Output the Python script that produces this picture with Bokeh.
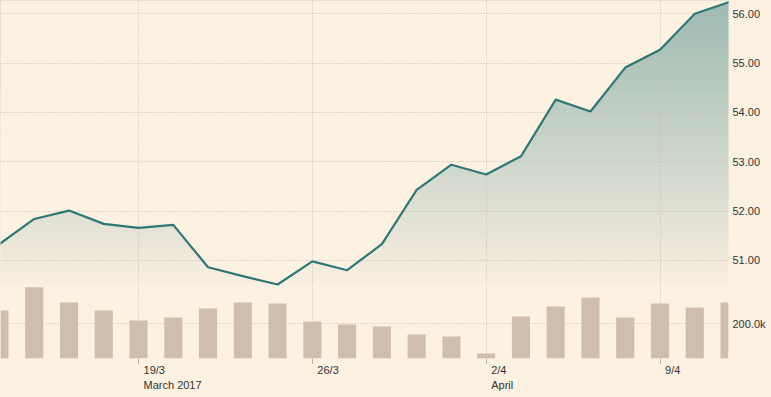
import numpy as np
from bokeh.plotting import figure
from bokeh.layouts import column
from bokeh.models import (Range1d, FixedTicker, ColumnDataSource,
                          NumeralTickFormatter, PrintfTickFormatter)
from bokeh.core.properties import value
from bokeh.embed import file_html
from bokeh.resources import INLINE

# ---- data ----
dates = ["13/3", "14/3", "15/3", "16/3", "19/3", "20/3", "21/3", "22/3", "23/3",
         "26/3", "27/3", "28/3", "29/3", "30/3", "2/4", "3/4", "4/4", "5/4", "6/4",
         "9/4", "10/4", "11/4"]
price = [51.33, 51.84, 52.01, 51.74, 51.66, 51.72, 50.86, 50.68, 50.51, 50.98, 50.80,
         51.33, 52.43, 52.94, 52.74, 53.11, 54.26, 54.02, 54.91, 55.27, 56.00, 56.24]
volume = [277000, 411000, 323000, 277000, 219000, 236000, 288000, 323000, 317000,
          213000, 196000, 184000, 138000, 127000, 29000, 242000, 300000, 352000,
          236000, 317000, 294000, 323000]
tick_dates = ["19/3", "26/3", "2/4", "9/4"]
month_labels = ["March 2017", "", "April", ""]
price_ticks = [51, 52, 53, 54, 55, 56]
vol_ticks = [200000]

idx = list(range(len(dates)))
tick_idx = [dates.index(d) for d in tick_dates]

# ---- style ----
BG = "#fdf1e2"
LINE = "#2e7877"
BAR = "#cfbead"
GRID = "#c7bbad"
TXT = "#333333"
FONT = "Liberation Sans"
TOP_RGB = np.array([157, 186, 178])
BG_RGB = np.array([253, 241, 226])

x_range = Range1d(0.03, 20.97)
FRAME_W = 728
RIGHT = 43


def common(**kw):
    return figure(frame_width=FRAME_W, x_range=x_range, output_backend="svg",
                  toolbar_location=None, min_border_left=0, min_border_right=RIGHT,
                  min_border_top=0, min_border_bottom=0, background_fill_color=BG,
                  border_fill_color=BG, outline_line_color=None, **kw)


def style_right_axis(a):
    a.axis_line_color = None
    a.major_tick_line_color = None
    a.minor_tick_line_color = None
    a.major_tick_out = 0
    a.major_tick_in = 0
    a.major_label_standoff = 4
    a.major_label_text_font = FONT
    a.major_label_text_font_size = "11px"
    a.major_label_text_color = TXT


def style_grid(fig):
    fig.ygrid.grid_line_color = GRID
    fig.ygrid.grid_line_dash = "1 2"
    fig.xgrid.ticker = FixedTicker(ticks=tick_idx)
    fig.xgrid.grid_line_color = GRID
    fig.xgrid.grid_line_dash = "1 2"


# ---- price panel ----
p1 = common(frame_height=286, y_range=Range1d(50.47, 56.27),
            x_axis_location=None, y_axis_location="right")

# gradient bands beneath the line
g_lo, g_hi = 50.4, 56.27
n = 90
edges = np.linspace(g_lo, g_hi, n + 1)
cols = []
for k in range(n):
    t = (edges[k] + edges[k + 1]) / 2
    f = ((t - g_lo) / (g_hi - g_lo)) ** 0.9
    c = BG_RGB + f * (TOP_RGB - BG_RGB)
    cols.append("#%02x%02x%02x" % tuple(int(round(v)) for v in c))
p1.quad(left=x_range.start - 1, right=x_range.end + 1, bottom=edges[:-1],
        top=edges[1:] + 0.01, fill_color=cols, line_color=None, level="image")
# cover above the line
p1.varea(x=idx, y1=price, y2=[60] * len(idx), fill_color=BG, level="image")

p1.line(idx, price, line_color=LINE, line_width=2.2)

ax = p1.yaxis[0]
ax.ticker = FixedTicker(ticks=price_ticks)
ax.formatter = PrintfTickFormatter(format="%.2f")
style_right_axis(ax)
style_grid(p1)

# ---- volume panel ----
p2 = common(frame_height=72, y_range=Range1d(0, 415000), y_axis_location="right")
p2.vbar(x=idx, top=volume, bottom=0, width=0.52, fill_color=BAR, line_color=None)

vax = p2.yaxis[0]
vax.ticker = FixedTicker(ticks=vol_ticks)
vax.formatter = NumeralTickFormatter(format="0.0a")
style_right_axis(vax)

xax = p2.xaxis[0]
xax.ticker = FixedTicker(ticks=tick_idx)
xax.major_label_overrides = {i: "" for i in tick_idx}
xax.major_label_text_font_size = "0px"
xax.major_label_standoff = 0
xax.axis_line_color = None
xax.major_tick_line_color = "#bdb2a6"
xax.major_tick_in = 0
xax.major_tick_out = 6
xax.minor_tick_line_color = None
style_grid(p2)

# ---- date label strip ----
p3 = common(frame_height=33, y_range=Range1d(-33, 0),
            x_axis_location=None, y_axis_location=None)
p3.xgrid.visible = False
p3.ygrid.visible = False
src = ColumnDataSource(dict(x=tick_idx, d=tick_dates, m=month_labels))
p3.text(x="x", y=-5, text="d", source=src, x_offset=5, text_align="left",
        text_baseline="middle", text_font=value(FONT), text_font_size="11px",
        text_color=TXT)
p3.text(x="x", y=-20, text="m", source=src, x_offset=5, text_align="left",
        text_baseline="middle", text_font=value(FONT), text_font_size="11px",
        text_color=TXT)

layout = column(p1, p2, p3, spacing=0, styles={"background-color": BG})
open("out.html", "w").write(file_html(layout, INLINE))
